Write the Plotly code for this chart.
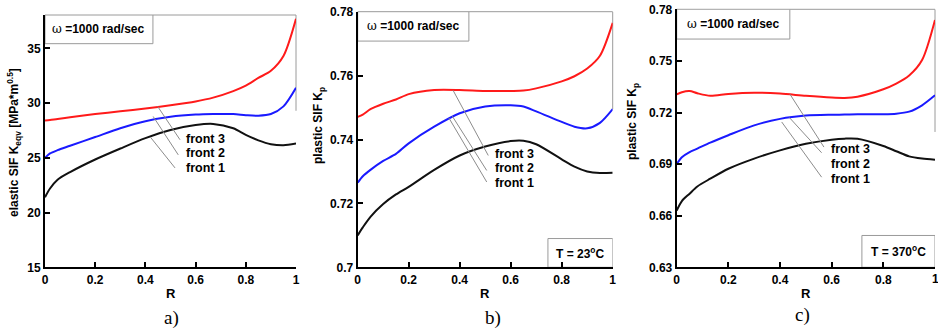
import numpy as np
import plotly.graph_objects as go

# ---------------- data ----------------
R_a = [0, 0.02, 0.05, 0.1, 0.2, 0.3, 0.4, 0.5, 0.6, 0.67, 0.75, 0.8, 0.85, 0.9, 0.95, 1.0]
a_front3 = [28.4, 28.45, 28.55, 28.7, 29.0, 29.25, 29.5, 29.8, 30.15, 30.5, 31.1, 31.6, 32.3, 32.95, 34.3, 37.7]
a_front2 = [25.0, 25.4, 25.7, 26.1, 26.9, 27.7, 28.35, 28.75, 28.95, 29.0, 29.0, 28.9, 28.85, 29.0, 29.7, 31.4]
a_front1 = [21.4, 22.2, 23.0, 23.7, 24.85, 25.85, 26.8, 27.55, 28.0, 28.1, 27.7, 27.1, 26.6, 26.25, 26.15, 26.3]

R_b = [0, 0.02, 0.05, 0.1, 0.15, 0.2, 0.3, 0.4, 0.5, 0.6, 0.65, 0.7, 0.8, 0.85, 0.9, 0.95, 1.0]
b_front3 = [0.7471, 0.7478, 0.7495, 0.7512, 0.7525, 0.7542, 0.7555, 0.7555, 0.7552, 0.7552, 0.7553,
            0.7560, 0.7582, 0.7598, 0.7622, 0.7662, 0.7765]
b_front2 = [0.7265, 0.7285, 0.7305, 0.7333, 0.7355, 0.7388, 0.7440, 0.7482, 0.7503, 0.7507, 0.7503,
            0.7488, 0.7455, 0.7440, 0.7435, 0.7452, 0.7495]
b_front1 = [0.7100, 0.7125, 0.7158, 0.7198, 0.7228, 0.7252, 0.7305, 0.7350, 0.7378, 0.7395, 0.7396,
            0.7385, 0.7338, 0.7315, 0.7300, 0.7295, 0.7296]

R_c = [0, 0.02, 0.05, 0.08, 0.13, 0.2, 0.3, 0.4, 0.5, 0.6, 0.65, 0.7, 0.8, 0.85, 0.9, 0.95, 1.0]
c_front3 = [0.7305, 0.7318, 0.7325, 0.7312, 0.7297, 0.7308, 0.7315, 0.7310, 0.7297, 0.7287, 0.7285,
            0.7292, 0.7335, 0.7368, 0.7415, 0.7505, 0.7738]
c_front2 = [0.6900, 0.6940, 0.6970, 0.6990, 0.7025, 0.7068, 0.7125, 0.7163, 0.7182, 0.7187, 0.7188,
            0.7190, 0.7190, 0.7193, 0.7205, 0.7242, 0.7300]
c_front1 = [0.6630, 0.6685, 0.6728, 0.6770, 0.6815, 0.6873, 0.6932, 0.6980, 0.7018, 0.7042, 0.7048,
            0.7047, 0.7005, 0.6975, 0.6945, 0.6932, 0.6925]

x_ticks = [0, 0.2, 0.4, 0.6, 0.8, 1]
x_ticklabels = ["0", "0.2", "0.4", "0.6", "0.8", "1"]
a_yticks = [15, 20, 25, 30, 35]
b_yticks = [0.7, 0.72, 0.74, 0.76, 0.78]
b_yticklabels = ["0.7", "0.72", "0.74", "0.76", "0.78"]
c_yticks = [0.63, 0.66, 0.69, 0.72, 0.75, 0.78]
c_yticklabels = ["0.63", "0.66", "0.69", "0.72", "0.75", "0.78"]

series_names = ["front 3", "front 2", "front 1"]
series_colors = ["#ff1a1a", "#1a1aff", "#111111"]
temp_texts = [None, "T = 23<sup>o</sup>C", "T = 370<sup>o</sup>C"]
panel_labels = ["a)", "b)", "c)"]
y_titles = ["elastic SIF K<sub>eqv</sub> [MPa*m<sup>0.5</sup>]",
            "plastic SIF K<sub>p</sub>", "plastic SIF K<sub>p</sub>"]

# ---------------- layout helpers ----------------
W, H = 938, 332
FONT = "Liberation Sans, Arial, sans-serif"


def px(x):
    return x / W


def py(y):
    return 1 - y / H


panels = [
    dict(R=R_a, ys=[a_front3, a_front2, a_front1], xdom=[px(45), px(296)], ydom=[py(267.3), py(15)],
         yrange=[15, 38.05], yt=a_yticks, ytl=[str(v) for v in a_yticks], edge_x_label=False,
         omega_box=(0.43, 35.43), right_line_to=29.3, temp_box=None,
         leaders=[(0.449, 29.69, 0.538, 26.65), (0.431, 28.78, 0.531, 25.27), (0.42, 26.89, 0.518, 24.08)],
         labels=(0.552, [26.75, 25.4, 24.05]),
         ytitle_pos=(14, 143), sub_pos=(171, 318)),
    dict(R=R_b, ys=[b_front3, b_front2, b_front1], xdom=[px(357.7), px(612.7)], ydom=[py(267.3), py(11.7)],
         yrange=[0.7, 0.78], yt=b_yticks, ytl=b_yticklabels, edge_x_label=False,
         omega_box=(0.436, 0.7708), right_line_to=0.7495, temp_box=(0.746, 0.709),
         leaders=[(0.374, 0.7554, 0.512, 0.7350), (0.371, 0.7473, 0.506, 0.7303), (0.358, 0.7467, 0.506, 0.7267)],
         labels=(0.532, [0.7355, 0.7310, 0.7265]),
         ytitle_pos=(319, 126), sub_pos=(493, 318)),
    dict(R=R_c, ys=[c_front3, c_front2, c_front1], xdom=[px(676.7), px(935)], ydom=[py(267.3), py(9.3)],
         yrange=[0.63, 0.78], yt=c_yticks, ytl=c_yticklabels, edge_x_label=True,
         omega_box=(0.438, 0.7627), right_line_to=0.7087, temp_box=(0.717, 0.6485),
         leaders=[(0.4386, 0.7306, 0.570, 0.6999), (0.436, 0.7171, 0.561, 0.6966), (0.4065, 0.7145, 0.561, 0.6824)],
         labels=(0.590, [0.6990, 0.6903, 0.6816]),
         ytitle_pos=(633, 122), sub_pos=(802, 315)),
]

fig = go.Figure()
shapes = []
annotations = []
layout_axes = {}
tickfont = dict(family=FONT, size=12, color="black", weight="bold")

for i, p in enumerate(panels):
    n = "" if i == 0 else str(i + 1)
    xa, ya = "x" + n, "y" + n
    for name, color, yv in zip(series_names, series_colors, p["ys"]):
        fig.add_trace(go.Scatter(x=p["R"], y=yv, mode="lines", name=name,
                                 line=dict(color=color, width=2, shape="spline", smoothing=0.8),
                                 xaxis=xa, yaxis=ya, showlegend=False, hoverinfo="skip", cliponaxis=False))
    common = dict(showgrid=False, zeroline=False, showline=True, linecolor="black", linewidth=2,
                  ticks="inside", ticklen=5, tickwidth=1.5, tickcolor="black", automargin=False,
                  tickfont=tickfont)
    xtl = list(x_ticklabels)
    if p["edge_x_label"]:
        # last label sits on the page edge: draw it as an annotation so it is not dropped
        xtl[-1] = ""
        annotations.append(dict(xref=xa, yref="paper", x=x_ticks[-1], y=py(278.5), text=x_ticklabels[-1],
                                showarrow=False, xanchor="center", yanchor="middle", font=tickfont))
    layout_axes["xaxis" + n] = dict(common, domain=p["xdom"], range=[0, 1], tickvals=x_ticks,
                                    ticktext=xtl, anchor=ya)
    layout_axes["yaxis" + n] = dict(common, domain=p["ydom"], range=p["yrange"], tickvals=p["yt"],
                                    ticktext=p["ytl"], anchor=xa)
    xd, yd = xa + " domain", ya + " domain"
    gray = dict(color="#9a9a9a", width=1)
    # top frame
    shapes.append(dict(type="line", xref=xd, yref=yd, x0=0, x1=1, y0=1, y1=1, line=gray, layer="below"))
    # right frame (partial, as in reference)
    shapes.append(dict(type="line", xref=xd, yref=ya, x0=1, x1=1, y0=p["right_line_to"], y1=p["yrange"][1],
                       line=gray, layer="below"))
    # omega box
    ox, oy = p["omega_box"]
    shapes.append(dict(type="rect", xref=xa, yref=ya, x0=0, x1=ox, y0=oy, y1=p["yrange"][1],
                       line=dict(color="#9a9a9a", width=1), fillcolor="white", layer="below"))
    annotations.append(dict(xref=xa, yref=ya, x=ox / 2, y=(oy + p["yrange"][1]) / 2,
                            text="<span style='font-family:DejaVu Serif;font-weight:normal'>ω</span> =1000 rad/sec",
                            showarrow=False, xanchor="center", yanchor="middle",
                            font=dict(family=FONT, size=12, color="black", weight="bold")))
    # temperature box
    if p["temp_box"] is not None:
        tx, ty = p["temp_box"]
        shapes.append(dict(type="rect", xref=xa, yref=ya, x0=tx, x1=1, y0=p["yrange"][0], y1=ty,
                           line=dict(color="#9a9a9a", width=1), fillcolor="white", layer="below"))
        annotations.append(dict(xref=xa, yref=ya, x=(tx + 1) / 2, y=(ty + p["yrange"][0]) / 2,
                                text=temp_texts[i], showarrow=False, xanchor="center", yanchor="middle",
                                font=dict(family=FONT, size=12, color="black", weight="bold")))
    # leader lines and labels
    for (x0, y0, x1, y1) in p["leaders"]:
        shapes.append(dict(type="line", xref=xa, yref=ya, x0=x0, y0=y0, x1=x1, y1=y1,
                           line=dict(color="#8c8c8c", width=1)))
    lx, lys = p["labels"]
    for name, ly in zip(series_names, lys):
        annotations.append(dict(xref=xa, yref=ya, x=lx, y=ly, text=name, showarrow=False,
                                xanchor="left", yanchor="middle",
                                font=dict(family=FONT, size=12.5, color="black", weight="bold")))
    # axis titles
    tx, ty = p["ytitle_pos"]
    annotations.append(dict(xref="paper", yref="paper", x=px(tx), y=py(ty), text=y_titles[i],
                            textangle=-90, showarrow=False, xanchor="center", yanchor="middle",
                            font=dict(family=FONT, size=12, color="black", weight="bold")))
    annotations.append(dict(xref="paper", yref="paper", x=(p["xdom"][0] + p["xdom"][1]) / 2, y=py(293),
                            text="R", showarrow=False, xanchor="center", yanchor="middle",
                            font=dict(family=FONT, size=13, color="black", weight="bold")))
    sx, sy = p["sub_pos"]
    annotations.append(dict(xref="paper", yref="paper", x=px(sx), y=py(sy), text=panel_labels[i],
                            showarrow=False, xanchor="center", yanchor="middle",
                            font=dict(family="Liberation Serif, Times New Roman, serif", size=19, color="black")))

fig.update_layout(width=W, height=H, margin=dict(l=0, r=0, t=0, b=0, autoexpand=False),
                  paper_bgcolor="white", plot_bgcolor="white",
                  shapes=shapes, annotations=annotations, **layout_axes)

fig.write_html("out.html", config={"displayModeBar": False},
               post_script="document.body.style.margin='0';document.body.style.overflow='hidden';")
